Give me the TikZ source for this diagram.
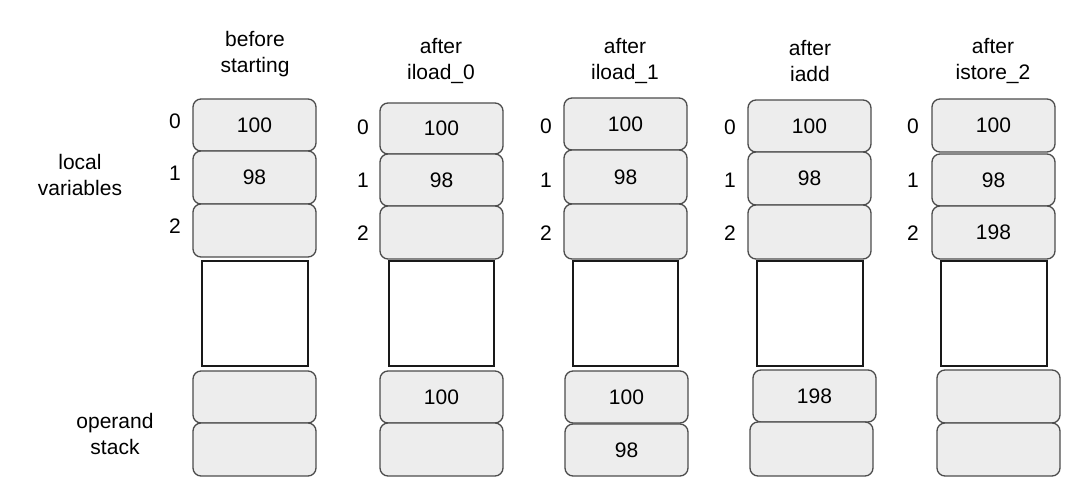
\documentclass[tikz,border=0pt]{standalone}
\usepackage{fontspec}
\setmainfont{Liberation Sans}
\begin{document}
\begin{tikzpicture}[x=1pt,y=-1pt,
  font=\fontsize{21}{26}\selectfont,
  cell/.style={draw=black!70, line width=1.3pt, fill=black!7, rounded corners=8pt,
    minimum width=123pt, minimum height=53pt, inner sep=0pt},
  gap/.style={draw=black!90, line width=1.8pt, fill=white, minimum width=105pt,
    minimum height=105pt, inner sep=0pt},
  lbl/.style={inner sep=0pt, align=center},
  idx/.style={inner sep=0pt}]
\useasboundingbox (0,0) rectangle (1080,494);
% side labels
\node[lbl] (lv) at (80,175) {local\\variables};
\node[lbl] (os) at (115,434) {operand\\stack};
% column 1
\node[lbl] (h1) at (255,54) {before\\starting};
\node[cell, minimum height=52pt] (a0) at (254.5,125) {100};
\node[cell] (a1) at (254.5,177.5) {98};
\node[cell] (a2) at (254.5,230.5) {};
\node[gap, minimum width=106pt] (ag) at (255,313.5) {};
\node[cell, minimum height=52pt] (as0) at (254.5,397) {};
\node[cell] (as1) at (254.5,449.5) {};
\node[idx] (ai0) at (175,121) {0};
\node[idx] (ai1) at (175,173) {1};
\node[idx] (ai2) at (175,226) {2};
% column 2
\node[lbl] (h2) at (441,61) {after\\iload\_0};
\node[cell, minimum height=51pt] (b0) at (441.5,128.5) {100};
\node[cell, minimum height=52pt] (b1) at (441.5,180) {98};
\node[cell] (b2) at (441.5,232.5) {};
\node[gap] (bg) at (441.5,313.5) {};
\node[cell, minimum height=52pt] (bs0) at (441.5,397) {100};
\node[cell] (bs1) at (441.5,449.5) {};
\node[idx] (bi0) at (363,127) {0};
\node[idx] (bi1) at (363,180) {1};
\node[idx] (bi2) at (363,233) {2};
% column 3
\node[lbl] (h3) at (625,61) {after\\iload\_1};
\node[cell, minimum height=52pt] (c0) at (625.5,124) {100};
\node[cell, minimum height=54pt] (c1) at (625.5,177) {98};
\node[cell, minimum height=55pt] (c2) at (625.5,231.5) {};
\node[gap] (cg) at (625.5,313.5) {};
\node[cell, minimum height=52pt] (cs0) at (626.5,397) {100};
\node[cell, minimum height=52pt] (cs1) at (626.5,450) {98};
\node[idx] (ci0) at (546,126) {0};
\node[idx] (ci1) at (546,180) {1};
\node[idx] (ci2) at (546,233) {2};
% column 4
\node[lbl] (h4) at (810,61) {after\\iadd};
\node[cell, minimum height=52pt] (d0) at (809.5,126) {100};
\node[cell] (d1) at (809.5,178.5) {98};
\node[cell, minimum height=54pt] (d2) at (809.5,232) {};
\node[gap, minimum width=106pt] (dg) at (810,313.5) {};
\node[cell, minimum height=52pt] (ds0) at (814.5,396) {198};
\node[cell, minimum height=54pt] (ds1) at (811.5,449) {};
\node[idx] (di0) at (730,127) {0};
\node[idx] (di1) at (730,180) {1};
\node[idx] (di2) at (730,233) {2};
% column 5
\node[lbl] (h5) at (993,61) {after\\istore\_2};
\node[cell] (e0) at (993.5,125.5) {100};
\node[cell, minimum height=52pt] (e1) at (993.5,180) {98};
\node[cell] (e2) at (993.5,232.5) {198};
\node[gap, minimum width=106pt] (eg) at (994,313.5) {};
\node[cell] (es0) at (998.5,396.5) {};
\node[cell] (es1) at (998.5,449.5) {};
\node[idx] (ei0) at (913,126) {0};
\node[idx] (ei1) at (913,180) {1};
\node[idx] (ei2) at (913,233) {2};
\end{tikzpicture}
\end{document}
